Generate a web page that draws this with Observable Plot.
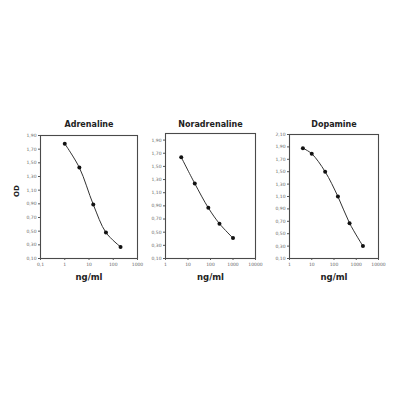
<!DOCTYPE html>
<html>
<head>
<meta charset="utf-8">
<script src="https://cdn.jsdelivr.net/npm/d3@7"></script>
<script src="https://cdn.jsdelivr.net/npm/@observablehq/plot@0.6"></script>
<style>
  html, body { margin: 0; padding: 0; background: white; }
  #wrap { position: relative; width: 400px; height: 400px; overflow: hidden; background: white; }
  #wrap svg { position: absolute; }
</style>
</head>
<body>
<div id="wrap"></div>
<script>
// ---- data ----
const titles = ["Adrenaline", "Noradrenaline", "Dopamine"];
const xLabel = "ng/ml";
const yLabel = "OD";

const adrenalineConc = [1, 4, 15, 50, 200];
const adrenalineOD = [1.78, 1.43, 0.89, 0.48, 0.27];

const noradrenalineConc = [5, 20, 80, 250, 1000];
const noradrenalineOD = [1.64, 1.24, 0.87, 0.63, 0.41];

const dopamineConc = [4, 10, 40, 150, 500, 2000];
const dopamineOD = [1.88, 1.79, 1.50, 1.10, 0.67, 0.30];

const xTicksA = [0.1, 1, 10, 100, 1000];
const xTicksB = [1, 10, 100, 1000, 10000];
const yTicksA = [0.10, 0.30, 0.50, 0.70, 0.90, 1.10, 1.30, 1.50, 1.70, 1.90];
const yTicksC = [0.10, 0.30, 0.50, 0.70, 0.90, 1.10, 1.30, 1.50, 1.70, 1.90, 2.10];

// ---- helpers ----
const fmtY = d => d.toFixed(2).replace(".", ",");
const fmtX = d => String(d).replace(".", ",");

function panel(opts) {
  const data = opts.conc.map((c, i) => ({conc: c, od: opts.od[i]}));
  const marks = [
    Plot.frame({stroke: "#4a4a4a", strokeWidth: 1.1}),
    Plot.axisX({ticks: opts.xTicks, tickFormat: fmtX, tickSize: 2, tickPadding: 2,
      fontSize: 4.5, label: null, stroke: "#555", fill: "#666"}),
    Plot.axisY({ticks: opts.yTicks, tickFormat: fmtY, tickSize: 2, tickPadding: 2,
      fontSize: 4.5, label: null, stroke: "#555", fill: "#666"}),
    Plot.line(data, {x: "conc", y: "od", curve: "catmull-rom", stroke: "#333", strokeWidth: 1}),
    Plot.dot(data, {x: "conc", y: "od", r: 2, fill: "#111", stroke: "none"}),
    Plot.text([opts.title], {text: d => d, frameAnchor: "top", dy: opts.titleDy, lineAnchor: "middle",
      fontSize: 8, fontWeight: "bold", fill: "#222"}),
    Plot.text([xLabel], {text: d => d, frameAnchor: "bottom", dy: 19, lineAnchor: "middle",
      fontSize: 8.5, fontWeight: "bold", fill: "#222"})
  ];
  if (opts.showYLabel) {
    marks.push(Plot.text([yLabel], {text: d => d, frameAnchor: "left", dx: -24, rotate: -90,
      lineAnchor: "middle", fontSize: 7, fontWeight: "bold", fill: "#222"}));
  }
  const svg = Plot.plot({
    width: opts.width,
    height: opts.height,
    marginLeft: opts.marginLeft,
    marginRight: opts.marginRight,
    marginTop: opts.marginTop,
    marginBottom: opts.marginBottom,
    x: {type: "log", domain: opts.xDomain},
    y: {domain: opts.yDomain},
    style: {fontFamily: "DejaVu Sans, Verdana, sans-serif", background: "transparent", color: "#444", overflow: "visible"},
    marks
  });
  svg.style.left = opts.left + "px";
  svg.style.top = opts.top + "px";
  document.getElementById("wrap").appendChild(svg);
}

// Adrenaline: frame x 40..137, y 135..258
panel({
  title: titles[0], conc: adrenalineConc, od: adrenalineOD,
  xDomain: [0.1, 1000], xTicks: xTicksA, yDomain: [0.1, 1.9], yTicks: yTicksA,
  left: 0, top: 100, width: 145, height: 190,
  marginLeft: 40, marginRight: 8, marginTop: 35, marginBottom: 32,
  titleDy: -11, showYLabel: true
});

// Noradrenaline: frame x 165..255, y 133..258
panel({
  title: titles[1], conc: noradrenalineConc, od: noradrenalineOD,
  xDomain: [1, 10000], xTicks: xTicksB, yDomain: [0.1, 2.0], yTicks: yTicksA,
  left: 135, top: 100, width: 128, height: 190,
  marginLeft: 30, marginRight: 8, marginTop: 33, marginBottom: 32,
  titleDy: -9, showYLabel: false
});

// Dopamine: frame x 289..378, y 134..258
panel({
  title: titles[2], conc: dopamineConc, od: dopamineOD,
  xDomain: [1, 10000], xTicks: xTicksB, yDomain: [0.1, 2.1], yTicks: yTicksC,
  left: 262, top: 100, width: 124, height: 190,
  marginLeft: 27, marginRight: 8, marginTop: 34, marginBottom: 32,
  titleDy: -10, showYLabel: false
});
</script>
</body>
</html>
